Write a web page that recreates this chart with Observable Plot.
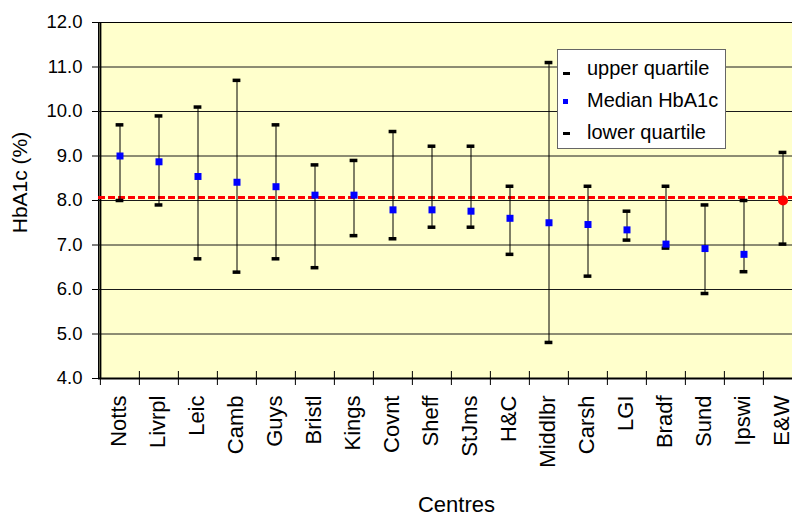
<!DOCTYPE html>
<html>
<head>
<meta charset="utf-8">
<script src="https://cdn.jsdelivr.net/npm/d3@7"></script>
<script src="https://cdn.jsdelivr.net/npm/@observablehq/plot@0.6"></script>
<style>
  body { margin: 0; background: #ffffff; }
  #wrap { position: relative; width: 792px; height: 516px; overflow: hidden; font-family: "Liberation Sans", Arial, sans-serif; }
  #legend { position: absolute; left: 557px; top: 49px; width: 167px; height: 98px; background: #ffffff; border: 1px solid #666666; }
  #legend .row { position: absolute; left: 0; height: 32px; line-height: 32px; font-size: 20px; color: #000; padding-left: 29px; white-space: nowrap; }
  #legend .mk { position: absolute; }
</style>
</head>
<body>
<div id="wrap"></div>
<script>
// ---- data ----
const centres = ["Notts","Livrpl","Leic","Camb","Guys","Bristl","Kings","Covnt","Sheff","StJms","H&C","Middlbr","Carsh","LGI","Bradf","Sund","Ipswi","E&W"];
const upperQuartile = [9.70, 9.90, 10.10, 10.70, 9.70, 8.80, 8.90, 9.55, 9.22, 9.22, 8.32, 11.10, 8.32, 7.76, 8.32, 7.90, 8.00, 9.08];
const medianHbA1c   = [9.00, 8.87, 8.54, 8.41, 8.31, 8.12, 8.12, 7.79, 7.79, 7.76, 7.60, 7.50, 7.46, 7.34, 7.02, 6.92, 6.79, 8.00];
const lowerQuartile = [8.00, 7.90, 6.69, 6.39, 6.69, 6.49, 7.21, 7.14, 7.40, 7.40, 6.79, 4.81, 6.30, 7.11, 6.93, 5.91, 6.40, 7.02];
const nationalMedian = [8.07];
const yTicks = [4, 5, 6, 7, 8, 9, 10, 11, 12];
const legendLabels = ["upper quartile", "Median HbA1c", "lower quartile"];
const yTitle = "HbA1c (%)";
const xTitle = "Centres";

// ---- build table ----
const rows = centres.map((c, i) => ({centre: c, upper: upperQuartile[i], median: medianHbA1c[i], lower: lowerQuartile[i]}));
const isEW = d => d.centre === "E&W";

const W = 792, H = 516, mL = 98, mR = -12, mT = 22, mB = 138;
const bw = (W - mL - mR) / centres.length;
const FONT = '"Liberation Sans", Arial, sans-serif';

const chart = Plot.plot({
  width: W, height: H,
  marginLeft: mL, marginRight: mR, marginTop: mT, marginBottom: mB,
  style: {fontFamily: FONT, background: "transparent", color: "#000"},
  x: {type: "band", domain: centres, padding: 0},
  y: {domain: [4, 12]},
  marks: [
    Plot.frame({fill: "#FFFFCC", stroke: "#000", strokeWidth: 1}),
    Plot.ruleY(yTicks.filter(v => v > 4 && v < 12), {stroke: "#1a1a1a", strokeWidth: 1}),
    Plot.ruleY([yTicks[0]], {stroke: "#000", strokeWidth: 2}),
    Plot.ruleX([centres[0]], {dx: -bw / 2, stroke: "#000", strokeWidth: 2}),
    Plot.axisY({ticks: yTicks, tickFormat: d => d.toFixed(1), tickSize: 6, tickPadding: 10, fontSize: 18.5, label: null}),
    Plot.axisX({ticks: centres, tickSize: 14, dx: -bw / 2, dy: -7, tickFormat: () => "", label: null}),
    Plot.axisX({ticks: centres, tickSize: 0, tickPadding: 17, tickRotate: -90, fontSize: 22, dx: -1, label: null}),
    Plot.ruleY(nationalMedian, {stroke: "#FF0000", strokeWidth: 3, strokeDasharray: "7,3"}),
    Plot.ruleX(rows, {x: "centre", y1: "lower", y2: "upper", stroke: "#000", strokeWidth: 1}),
    Plot.tickY(rows, {x: "centre", y: "upper", stroke: "#000", strokeWidth: 3.5, insetLeft: (bw - 8) / 2, insetRight: (bw - 8) / 2}),
    Plot.tickY(rows, {x: "centre", y: "lower", stroke: "#000", strokeWidth: 3.5, insetLeft: (bw - 8) / 2, insetRight: (bw - 8) / 2}),
    Plot.dot(rows.filter(d => !isEW(d)), {x: "centre", y: "median", symbol: "square", r: 3.95, fill: "#0000FF"}),
    Plot.dot(rows.filter(isEW), {x: "centre", y: "median", r: 5, fill: "#FF0000"}),
    Plot.text([yTitle], {frameAnchor: "left", textAnchor: "middle", rotate: -90, dx: -78, dy: -18, fontSize: 21, fill: "#000"}),
    Plot.text([xTitle], {frameAnchor: "bottom", textAnchor: "middle", lineAnchor: "bottom", dx: 5, dy: 133, fontSize: 22, fill: "#000"})
  ]
});

const wrap = document.getElementById("wrap");
wrap.appendChild(chart);

// ---- legend (HTML overlay inside plot area) ----
const legend = document.createElement("div");
legend.id = "legend";
const markers = [
  {w: 7, h: 3, bg: "#000", top: 20},
  {w: 5, h: 5, bg: "#0000FF", top: 15},
  {w: 7, h: 3, bg: "#000", top: 16}
];
legendLabels.forEach((lab, i) => {
  const row = document.createElement("div");
  row.className = "row";
  row.style.top = (2 + i * 32) + "px";
  row.textContent = lab;
  const m = document.createElement("span");
  m.className = "mk";
  m.style.left = "5px";
  m.style.top = markers[i].top + "px";
  m.style.width = markers[i].w + "px";
  m.style.height = markers[i].h + "px";
  m.style.background = markers[i].bg;
  row.appendChild(m);
  legend.appendChild(row);
});
wrap.appendChild(legend);
</script>
</body>
</html>
